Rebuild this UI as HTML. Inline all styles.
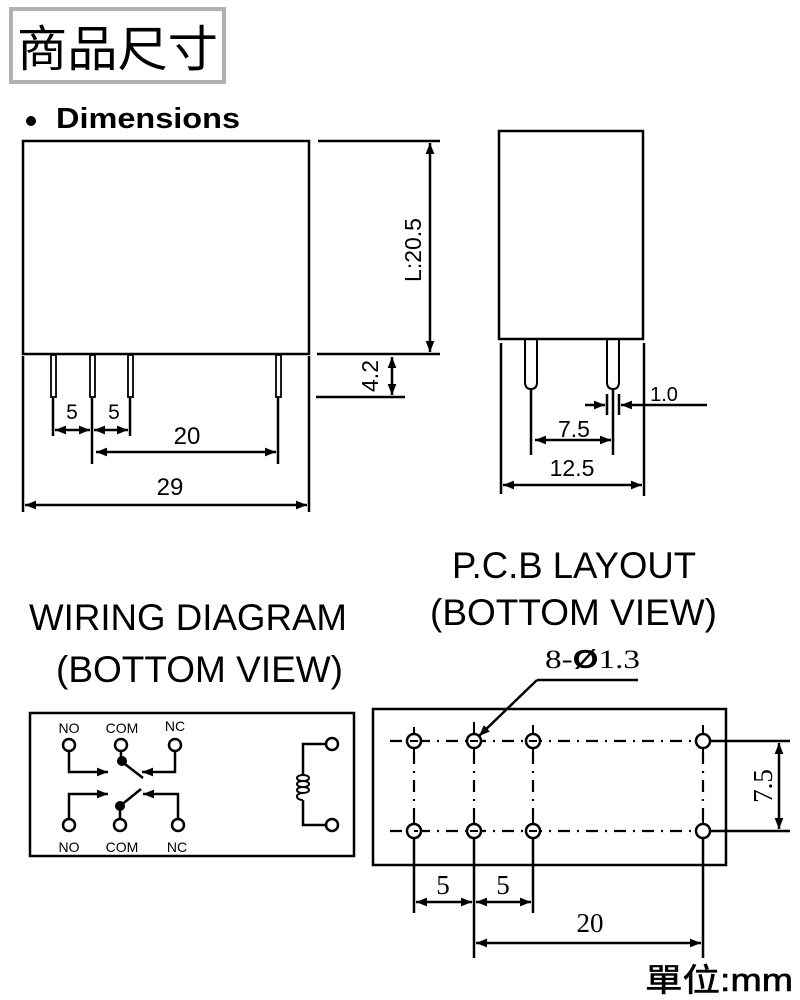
<!DOCTYPE html>
<html><head><meta charset="utf-8"><style>
html,body{margin:0;padding:0;background:#fff;width:800px;height:1000px;overflow:hidden}
svg{display:block}
</style></head><body>
<svg width="800" height="1000" viewBox="0 0 800 1000" xmlns="http://www.w3.org/2000/svg">
<defs>
<marker id="a" viewBox="0 0 10 10" refX="10" refY="5" markerWidth="11" markerHeight="11" markerUnits="userSpaceOnUse" orient="auto-start-reverse">
<path d="M0,1 L10,5 L0,9 Z" fill="#000"/></marker>
</defs>
<!-- title -->
<rect x="11" y="9" width="213" height="73" fill="#fff" stroke="#b2b2b2" stroke-width="4"/>
<text x="17" y="66" font-family="'Liberation Sans','Noto Sans CJK TC',sans-serif" font-size="49" textLength="201" lengthAdjust="spacingAndGlyphs">商品尺寸</text>
<circle cx="31" cy="121" r="5" fill="#000"/>
<text x="56" y="128" font-family="'Liberation Sans',sans-serif" font-weight="bold" font-size="29" textLength="184" lengthAdjust="spacingAndGlyphs">Dimensions</text>

<g stroke="#000" stroke-width="2.5" fill="none">
<!-- front view -->
<rect x="23" y="141" width="286" height="213"/>
<line x1="318" y1="141" x2="440" y2="141"/>
<line x1="317" y1="354" x2="440" y2="354"/>
<line x1="316" y1="397" x2="405" y2="397"/>
<line x1="430" y1="143" x2="430" y2="352" marker-start="url(#a)" marker-end="url(#a)"/>
<line x1="392" y1="357" x2="392" y2="395" marker-start="url(#a)" marker-end="url(#a)"/>
<line x1="23" y1="356" x2="23" y2="512"/>
<line x1="309" y1="356" x2="309" y2="512"/>
<line x1="53" y1="398" x2="53" y2="436"/>
<line x1="130" y1="398" x2="130" y2="436"/>
<line x1="92" y1="398" x2="92" y2="464"/>
<line x1="278" y1="398" x2="278" y2="464"/>
<line x1="55" y1="430" x2="90" y2="430" marker-start="url(#a)" marker-end="url(#a)"/>
<line x1="94" y1="430" x2="128" y2="430" marker-start="url(#a)" marker-end="url(#a)"/>
<line x1="96" y1="452" x2="276" y2="452" marker-start="url(#a)" marker-end="url(#a)"/>
<line x1="25" y1="505" x2="307" y2="505" marker-start="url(#a)" marker-end="url(#a)"/>
</g>
<g stroke="#000" stroke-width="1.8" fill="#fff">
<rect x="51" y="355" width="5" height="42"/>
<rect x="90" y="355" width="5" height="42"/>
<rect x="128" y="355" width="5" height="42"/>
<rect x="276" y="355" width="5" height="42"/>
</g>
<g font-family="'Liberation Sans',sans-serif" font-size="21" fill="#000">
<text x="72" y="419" text-anchor="middle">5</text>
<text x="114" y="419" text-anchor="middle">5</text>
<text x="187" y="444" text-anchor="middle" font-size="24">20</text>
<text x="170" y="495" text-anchor="middle" font-size="24">29</text>
<text transform="translate(378,376) rotate(-90)" text-anchor="middle" font-size="23">4.2</text>
<text transform="translate(421,250) rotate(-90)" text-anchor="middle" font-size="23">L:20.5</text>
</g>

<!-- side view -->
<g stroke="#000" stroke-width="2.5" fill="none">
<rect x="499" y="131" width="144" height="208"/>
<line x1="501" y1="343" x2="501" y2="494"/>
<line x1="644" y1="343" x2="644" y2="496"/>
<line x1="531" y1="388" x2="531" y2="455"/>
<line x1="613" y1="388" x2="613" y2="455"/>
<line x1="607" y1="394" x2="607" y2="415"/>
<line x1="619" y1="394" x2="619" y2="415"/>
<line x1="585" y1="405" x2="605" y2="405" marker-end="url(#a)"/>
<line x1="707" y1="405" x2="621" y2="405" marker-end="url(#a)"/>
<line x1="535" y1="440" x2="611" y2="440" marker-start="url(#a)" marker-end="url(#a)"/>
<line x1="503" y1="485" x2="642" y2="485" marker-start="url(#a)" marker-end="url(#a)"/>
<path d="M525,340 V382 Q525,389 531,389 Q537,389 537,382 V340" stroke-width="2"/>
<path d="M607,340 V382 Q607,389 613,389 Q619,389 619,382 V340" stroke-width="2"/>
</g>
<g font-family="'Liberation Sans',sans-serif" font-size="23" fill="#000">
<text x="664" y="401" text-anchor="middle" font-size="20">1.0</text>
<text x="574" y="437" text-anchor="middle">7.5</text>
<text x="572" y="476" text-anchor="middle">12.5</text>
</g>

<!-- headings -->
<g font-family="'Liberation Sans',sans-serif" font-size="37" fill="#000">
<text x="452" y="578" textLength="244" lengthAdjust="spacingAndGlyphs">P.C.B LAYOUT</text>
<text x="430" y="625" textLength="287" lengthAdjust="spacingAndGlyphs">(BOTTOM VIEW)</text>
<text x="29" y="630" textLength="318" lengthAdjust="spacingAndGlyphs">WIRING DIAGRAM</text>
<text x="56" y="682" textLength="287" lengthAdjust="spacingAndGlyphs">(BOTTOM VIEW)</text>
</g>

<!-- wiring -->
<rect x="30" y="713" width="324" height="143" fill="none" stroke="#000" stroke-width="2.5"/>
<g font-family="'Liberation Sans',sans-serif" font-size="14" fill="#000" text-anchor="middle">
<text x="69" y="733">NO</text><text x="122" y="733">COM</text><text x="175" y="731">NC</text>
<text x="69" y="852">NO</text><text x="122" y="852">COM</text><text x="177" y="852">NC</text>
</g>
<g stroke="#000" stroke-width="2.5" fill="none">
<circle cx="69" cy="745" r="6"/><circle cx="121" cy="745" r="6"/><circle cx="175" cy="745" r="6"/>
<circle cx="69" cy="825" r="6"/><circle cx="120" cy="825" r="6"/><circle cx="178" cy="825" r="6"/>
<circle cx="332" cy="744" r="6"/><circle cx="332" cy="825" r="6"/>
<path d="M69,751 V772 H108" marker-end="url(#a)"/>
<path d="M175,751 V772 H142" marker-end="url(#a)"/>
<path d="M69,819 V794 H108" marker-end="url(#a)"/>
<path d="M178,819 V794 H143" marker-end="url(#a)"/>
<path d="M121,751 V761 L143,778"/>
<path d="M120,819 V806 L141,789"/>
<path d="M326,744 H303 V775"/>
<path d="M303,800 V825 H326"/>
<path d="M303,775 c-8,0 -8,6 0,6 c8,0 8,-6 0,-6 M303,781 c-8,0 -8,6 0,6 c8,0 8,-6 0,-6 M303,787 c-8,0 -8,6 0,6 c8,0 8,-6 0,-6 M303,793 c-8,0 -8,7 0,7" stroke-width="2"/>
</g>
<circle cx="122" cy="761" r="5" fill="#000"/>
<circle cx="120" cy="806" r="5" fill="#000"/>

<!-- PCB -->
<rect x="373" y="709" width="353" height="156" fill="none" stroke="#000" stroke-width="2.5"/>
<g stroke="#000" stroke-width="2.2" fill="none" stroke-dasharray="12,7,2,7">
<line x1="390" y1="741" x2="716" y2="741"/>
<line x1="390" y1="831" x2="716" y2="831"/>
<line x1="414" y1="752" x2="414" y2="822"/>
<line x1="474" y1="752" x2="474" y2="822"/>
<line x1="533" y1="752" x2="533" y2="822"/>
<line x1="703" y1="752" x2="703" y2="822"/>
</g>
<g stroke="#000" stroke-width="2.5" fill="#fff">
<circle cx="414" cy="741" r="7"/><circle cx="474" cy="741" r="7"/><circle cx="533" cy="741" r="7"/><circle cx="703" cy="741" r="7"/>
<circle cx="414" cy="831" r="7"/><circle cx="474" cy="831" r="7"/><circle cx="533" cy="831" r="7"/><circle cx="703" cy="831" r="7"/>
</g>
<g stroke="#000" stroke-width="2" fill="none">
<line x1="410" y1="741" x2="418" y2="741"/><line x1="470" y1="741" x2="478" y2="741"/><line x1="529" y1="741" x2="537" y2="741"/>
<line x1="414" y1="727" x2="414" y2="734"/><line x1="474" y1="722" x2="474" y2="734"/><line x1="533" y1="725" x2="533" y2="734"/><line x1="703" y1="725" x2="703" y2="734"/>
<line x1="414" y1="748" x2="414" y2="754"/><line x1="474" y1="748" x2="474" y2="754"/><line x1="533" y1="748" x2="533" y2="754"/><line x1="703" y1="748" x2="703" y2="754"/>
<line x1="414" y1="818" x2="414" y2="824"/><line x1="474" y1="818" x2="474" y2="824"/><line x1="533" y1="818" x2="533" y2="824"/><line x1="703" y1="818" x2="703" y2="824"/>
<line x1="414" y1="831" x2="418" y2="831"/><line x1="470" y1="831" x2="478" y2="831"/><line x1="529" y1="831" x2="537" y2="831"/>
</g>
<g stroke="#000" stroke-width="2.5" fill="none">
<line x1="710" y1="741" x2="790" y2="741"/>
<line x1="710" y1="831" x2="790" y2="831"/>
<line x1="779" y1="743" x2="779" y2="829" marker-start="url(#a)" marker-end="url(#a)"/>
<line x1="414" y1="838" x2="414" y2="913"/>
<line x1="474" y1="838" x2="474" y2="958"/>
<line x1="533" y1="838" x2="533" y2="913"/>
<line x1="703" y1="838" x2="703" y2="958"/>
<line x1="416" y1="902" x2="472" y2="902" marker-start="url(#a)" marker-end="url(#a)"/>
<line x1="476" y1="902" x2="531" y2="902" marker-start="url(#a)" marker-end="url(#a)"/>
<line x1="476" y1="943" x2="701" y2="943" marker-start="url(#a)" marker-end="url(#a)"/>
<line x1="537" y1="680" x2="638" y2="680"/>
<line x1="537" y1="680" x2="479" y2="736" marker-end="url(#a)"/>
</g>
<g font-family="'Liberation Serif',serif" font-size="27" fill="#000">
<text x="443" y="894" text-anchor="middle">5</text>
<text x="503" y="894" text-anchor="middle">5</text>
<text x="590" y="932" text-anchor="middle">20</text>
<text transform="translate(772,786) rotate(-90)" text-anchor="middle">7.5</text>
<text x="545" y="668" font-size="26" textLength="95" lengthAdjust="spacingAndGlyphs">8-<tspan font-family="'Liberation Sans',sans-serif" font-weight="bold">Ø</tspan>1.3</text>
</g>
<text x="645" y="991" font-family="'Liberation Sans','Noto Sans CJK TC',sans-serif" font-size="32" fill="#000" stroke="#000" stroke-width="0.6" textLength="148" lengthAdjust="spacingAndGlyphs">單位:mm</text>
</svg>
</body></html>
